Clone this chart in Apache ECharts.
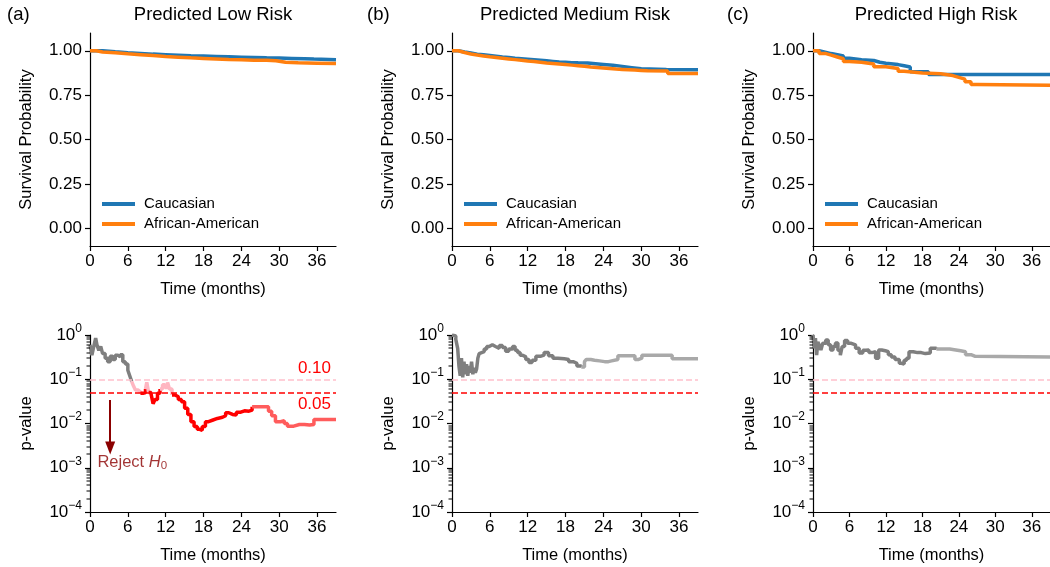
<!DOCTYPE html>
<html><head><meta charset="utf-8">
<script src="https://cdn.jsdelivr.net/npm/echarts@6/dist/echarts.min.js"></script>
<style>html,body{margin:0;padding:0;background:#fff}#c{width:1050px;height:567px}</style>
</head><body><div id="c"></div>
<script>
// ---------- text / ticks ----------
const panelTitles = ['Predicted Low Risk', 'Predicted Medium Risk', 'Predicted High Risk'];
const panelTags = ['(a)', '(b)', '(c)'];
const groups = ['Caucasian', 'African-American'];
const timeTicks = [0, 6, 12, 18, 24, 30, 36];
const survTicks = [0, 0.25, 0.5, 0.75, 1];
const pTicks = [1e-4, 1e-3, 1e-2, 1e-1, 1];
const thresholds = [0.10, 0.05];

// ---------- Kaplan-Meier curves ----------
const lowCauT = [0, 2, 4, 6, 8, 10, 12, 14, 16, 18, 20, 22, 24, 26, 28, 30, 32, 34, 35.5, 39];
const lowCauS = [1, 0.994, 0.989, 0.985, 0.981, 0.978, 0.975, 0.972, 0.970, 0.968, 0.966, 0.964, 0.962, 0.960, 0.959, 0.957, 0.955, 0.953, 0.949, 0.949];
const lowAfrT = [0, 1, 2, 4, 6, 8, 10, 12, 14, 16, 18, 20, 22, 24, 26, 28, 29.5, 31, 33, 36, 39];
const lowAfrS = [1, 0.993, 0.989, 0.983, 0.978, 0.973, 0.968, 0.964, 0.960, 0.957, 0.954, 0.951, 0.949, 0.947, 0.946, 0.944, 0.935, 0.932, 0.930, 0.928, 0.927];
const medCauT = [0, 1, 2, 3, 4, 5, 6, 7, 8, 9, 10, 11, 12, 13, 14, 15, 16, 17, 18, 19, 20, 21.5, 24, 25.5, 27, 28.5, 30, 34, 39];
const medCauS = [1, 0.993, 0.987, 0.981, 0.977, 0.973, 0.969, 0.965, 0.962, 0.958, 0.955, 0.952, 0.949, 0.946, 0.943, 0.940, 0.937, 0.935, 0.933, 0.932, 0.931, 0.923, 0.918, 0.912, 0.905, 0.898, 0.895, 0.893, 0.893];
const medAfrT = [0, 1, 2, 3, 4, 5, 6, 7, 8, 9, 10, 11, 12, 13, 14, 15, 16, 17, 18, 19, 20, 21, 22, 23, 24, 25, 26, 27, 28, 29, 30, 31, 34.2, 39];
const medAfrS = [1, 0.990, 0.982, 0.976, 0.971, 0.966, 0.962, 0.958, 0.954, 0.950, 0.946, 0.942, 0.939, 0.935, 0.931, 0.928, 0.925, 0.922, 0.919, 0.916, 0.913, 0.909, 0.906, 0.903, 0.900, 0.897, 0.895, 0.893, 0.891, 0.889, 0.887, 0.886, 0.872, 0.871];
const highCauT = [0, 1, 2, 3, 4, 5, 6, 8, 10, 11, 12, 14, 15, 16, 19, 39];
const highCauS = [1, 0.992, 0.984, 0.978, 0.970, 0.958, 0.950, 0.945, 0.935, 0.930, 0.922, 0.915, 0.908, 0.882, 0.866, 0.866];
const highAfrT = [0, 1, 2, 3, 4, 5, 6, 8, 10, 12, 14, 15, 18, 21, 23, 24, 25, 26, 27, 39];
const highAfrS = [1, 0.985, 0.975, 0.965, 0.955, 0.940, 0.935, 0.925, 0.910, 0.900, 0.885, 0.875, 0.870, 0.860, 0.850, 0.840, 0.825, 0.810, 0.805, 0.805];

// ---------- log-rank p-value over time ----------
const lowPT = [0, 0.3, 0.6, 0.9, 1.1, 1.4, 1.7, 2.0, 2.4, 2.8, 3.2, 3.6, 4.0, 4.4, 4.8, 5.2, 5.6, 6.0, 6.3, 6.6, 6.9, 7.2, 7.6, 8.0, 8.4, 8.8, 9.0, 9.3, 9.7, 10.0, 10.3, 10.7, 11.1, 11.5, 11.9, 12.3, 12.6, 13.0, 13.5, 14.0, 14.5, 15.0, 15.5, 16.0, 16.5, 17.0, 17.4, 17.8, 18.3, 18.8, 19.5, 20.2, 21.0, 21.5, 22.0, 22.6, 23.2, 23.9, 24.5, 25.2, 25.7, 27.8, 28.3, 28.8, 29.4, 30.2, 30.8, 31.3, 32.3, 33.2, 34.0, 34.8, 35.5, 39];
const lowP = [0.6, 0.35, 0.55, 0.85, 0.6, 0.45, 0.55, 0.38, 0.3, 0.25, 0.33, 0.28, 0.35, 0.32, 0.36, 0.25, 0.22, 0.16, 0.12, 0.09, 0.07, 0.057, 0.052, 0.048, 0.05, 0.06, 0.085, 0.05, 0.045, 0.028, 0.035, 0.048, 0.06, 0.075, 0.065, 0.085, 0.06, 0.044, 0.04, 0.035, 0.031, 0.022, 0.016, 0.011, 0.0085, 0.0074, 0.007, 0.0085, 0.011, 0.012, 0.013, 0.0138, 0.015, 0.0175, 0.016, 0.0155, 0.018, 0.0194, 0.019, 0.02, 0.024, 0.024, 0.019, 0.015, 0.011, 0.0115, 0.01, 0.0087, 0.0095, 0.0095, 0.0092, 0.0095, 0.0123, 0.0123];
const medPT = [0, 0.3, 0.6, 0.9, 1.1, 1.3, 1.5, 1.7, 1.9, 2.1, 2.3, 2.5, 2.7, 2.9, 3.1, 3.3, 3.5, 3.7, 3.9, 4.1, 4.3, 4.6, 5.1, 5.5, 5.9, 6.4, 6.9, 7.5, 8.0, 8.5, 9.0, 9.6, 10.0, 10.4, 10.8, 11.2, 11.7, 12.2, 12.7, 13.3, 14.0, 14.6, 15.3, 16.0, 16.8, 17.8, 18.5, 19.2, 19.8, 20.5, 21.0, 21.3, 22.0, 22.6, 23.4, 24.2, 24.8, 25.3, 26.3, 28.5, 29.0, 29.6, 30.1, 34.1, 34.9, 39];
const medP = [1.0, 0.95, 0.8, 0.5, 0.2, 0.12, 0.3, 0.11, 0.25, 0.13, 0.22, 0.12, 0.2, 0.14, 0.25, 0.13, 0.18, 0.14, 0.17, 0.3, 0.38, 0.42, 0.48, 0.55, 0.6, 0.55, 0.5, 0.58, 0.52, 0.43, 0.48, 0.55, 0.45, 0.4, 0.35, 0.32, 0.28, 0.24, 0.27, 0.33, 0.35, 0.4, 0.34, 0.3, 0.29, 0.28, 0.25, 0.23, 0.2, 0.19, 0.25, 0.28, 0.27, 0.26, 0.25, 0.25, 0.26, 0.28, 0.34, 0.34, 0.28, 0.3, 0.35, 0.35, 0.29, 0.29];
const highPT = [0, 0.2, 0.4, 0.6, 0.8, 1.0, 1.3, 1.6, 2.1, 2.5, 2.9, 3.3, 3.7, 4.1, 4.5, 4.8, 5.2, 5.7, 6.3, 7.0, 7.6, 8.2, 8.7, 9.2, 9.7, 10.3, 10.8, 11.3, 11.9, 12.4, 12.9, 13.5, 14.2, 14.6, 15.0, 15.4, 15.8, 16.5, 17.2, 17.8, 18.5, 19.3, 20.3, 21.4, 22.5, 23.5, 24.3, 25.1, 26.0, 26.7, 39];
const highP = [1.0, 0.5, 0.85, 0.35, 0.7, 0.6, 0.46, 0.65, 0.77, 0.6, 0.46, 0.55, 0.66, 0.45, 0.35, 0.55, 0.75, 0.65, 0.6, 0.5, 0.39, 0.45, 0.46, 0.4, 0.42, 0.3, 0.46, 0.44, 0.42, 0.36, 0.32, 0.28, 0.23, 0.22, 0.27, 0.3, 0.42, 0.4, 0.4, 0.38, 0.39, 0.5, 0.48, 0.48, 0.46, 0.44, 0.42, 0.36, 0.33, 0.32, 0.32];
const fadeAfter = [25.5, 20.5, 20];

// ---------- layout / style ----------
const FONT = '"Liberation Sans", Arial, Helvetica, sans-serif';
const gridLefts = [90, 452, 813];
const tagLefts = [7, 367, 727];
const GW = 246;
const TOP_Y = 33, TOP_H = 213, BOT_Y = 335, BOT_H = 177;
const C_BLUE = '#1f77b4', C_ORANGE = '#ff7f0e';
const segColors = { g: '#7f7f7f', gf: '#a9a9a9', p: '#ffb6c1', pf: '#ffc8d0', r: '#ff0000', rf: '#ff5c5c' };
const TICK_FS = 17, NAME_FS = 16.5, TITLE_FS = 18.5;

const kmT = [[lowCauT, lowAfrT], [medCauT, medAfrT], [highCauT, highAfrT]];
const kmS = [[lowCauS, lowAfrS], [medCauS, medAfrS], [highCauS, highAfrS]];
const pvT = [lowPT, medPT, highPT];
const pvV = [lowP, medP, highP];

const minorTicks = [];
for (let e = -4; e < 0; e++) for (let k = 2; k <= 9; k++) minorTicks.push(k * Math.pow(10, e));

const zip = (a, b) => a.map((x, i) => [x, b[i]]);
const axisCol = '#000';

const grid = [], xAxis = [], yAxis = [], series = [];
for (let i = 0; i < 3; i++) grid.push({ left: gridLefts[i], top: TOP_Y, width: GW, height: TOP_H });
for (let i = 0; i < 3; i++) grid.push({ left: gridLefts[i], top: BOT_Y, width: GW, height: BOT_H });

for (let g = 0; g < 6; g++) {
  xAxis.push({
    type: 'value', gridIndex: g, min: 0, max: 39,
    axisLine: { show: true, onZero: false, lineStyle: { color: axisCol, width: 1.2 } },
    axisTick: { show: true, length: 5, customValues: timeTicks, lineStyle: { color: axisCol, width: 1.2 } },
    axisLabel: { customValues: timeTicks, fontSize: TICK_FS, color: '#000', margin: 7, fontFamily: FONT },
    splitLine: { show: false },
    name: 'Time (months)', nameLocation: 'middle', nameGap: 35,
    nameTextStyle: { fontSize: NAME_FS, color: '#000', fontFamily: FONT }
  });
}
for (let g = 0; g < 3; g++) {
  yAxis.push({
    type: 'value', gridIndex: g, min: -0.1, max: 1.1,
    axisLine: { show: true, lineStyle: { color: axisCol, width: 1.2 } },
    axisTick: { show: true, length: 5, customValues: survTicks, lineStyle: { color: axisCol, width: 1.2 } },
    axisLabel: { customValues: survTicks, fontSize: TICK_FS, color: '#000', margin: 8, fontFamily: FONT,
      formatter: v => v.toFixed(2) },
    splitLine: { show: false },
    name: 'Survival Probability', nameLocation: 'middle', nameGap: 55,
    nameTextStyle: { fontSize: NAME_FS, color: '#000', fontFamily: FONT }
  });
}
for (let g = 3; g < 6; g++) {
  yAxis.push({
    type: 'log', logBase: 10, gridIndex: g, min: 1e-4, max: 1, position: 'left',
    axisLine: { show: true, lineStyle: { color: axisCol, width: 1.2 } },
    axisTick: { show: true, length: 5, customValues: pTicks, lineStyle: { color: axisCol, width: 1.2 } },
    axisLabel: { customValues: pTicks, color: '#000', margin: 8, fontFamily: FONT,
      formatter: v => {
        const e = Math.round(Math.log10(v));
        return '{b|10}{s|' + (e < 0 ? '\u2212' + (-e) : String(e)) + '}';
      },
      rich: {
        b: { fontSize: TICK_FS, fontFamily: FONT, color: '#000' },
        s: { fontSize: 12, fontFamily: FONT, color: '#000', padding: [0, 0, 13, 0] }
      }
    },
    splitLine: { show: false },
    name: 'p-value', nameLocation: 'middle', nameGap: 55,
    nameTextStyle: { fontSize: NAME_FS, color: '#000', fontFamily: FONT }
  });
}

// KM series
for (let i = 0; i < 3; i++) {
  [C_BLUE, C_ORANGE].forEach((col, k) => {
    series.push({
      type: 'line', name: groups[k], xAxisIndex: i, yAxisIndex: i, step: 'end',
      data: zip(kmT[i][k], kmS[i][k]), showSymbol: false, symbol: 'none',
      lineStyle: { color: col, width: 3.5 }, itemStyle: { color: col },
      silent: true, animation: false, z: 3 + k
    });
  });
}

// p-value traces coloured by significance class
const cls = v => (v > 0.1 ? 'g' : (v > 0.05 ? 'p' : 'r'));
for (let i = 0; i < 3; i++) {
  const t = pvT[i], p = pvV[i], gi = 3 + i;
  const key = j => cls(p[j]) + (t[j] >= fadeAfter[i] ? 'f' : '');
  let start = 0;
  for (let j = 1; j <= t.length; j++) {
    if (j === t.length || key(j) !== key(start)) {
      const end = Math.min(j, t.length - 1);
      const pts = [];
      for (let m = start; m <= end; m++) pts.push([t[m], p[m]]);
      const col = segColors[key(start)];
      series.push({
        type: 'line', xAxisIndex: gi, yAxisIndex: gi, step: 'end', data: pts,
        showSymbol: false, symbol: 'none', lineStyle: { color: col, width: 3.5 },
        itemStyle: { color: col }, silent: true, animation: false, z: 4
      });
      start = j;
    }
  }
  series.push({
    type: 'line', xAxisIndex: gi, yAxisIndex: gi, data: [], silent: true, animation: false, z: 2,
    markLine: {
      silent: true, symbol: ['none', 'none'], animation: false,
      data: [
        { yAxis: thresholds[0], lineStyle: { color: '#ffc0cb', type: [6, 3], width: 1.6 },
          label: { show: i === 0, formatter: '0.10', position: 'insideEndTop', color: '#ff0000', fontSize: TICK_FS, fontFamily: FONT, distance: [5, 2] } },
        { yAxis: thresholds[1], lineStyle: { color: '#ff0000', type: [6, 3], width: 1.6 },
          label: { show: i === 0, formatter: '0.05', position: 'insideEndBottom', color: '#ff0000', fontSize: TICK_FS, fontFamily: FONT, distance: [5, 3] } }
      ]
    }
  });
  // minor log ticks drawn through the axis scale
  series.push({
    type: 'custom', coordinateSystem: 'cartesian2d', xAxisIndex: gi, yAxisIndex: gi,
    clip: false, silent: true, animation: false, z: 10,
    data: minorTicks.map(v => [1, v]),
    renderItem: function (params, api) {
      const pt = api.coord([0, api.value(1)]);
      return { type: 'rect', shape: { x: pt[0] - 3.5, y: Math.round(pt[1]) - 0.5, width: 3.5, height: 1 },
        style: { fill: '#000' } };
    }
  });
}

// "Reject H0" annotation with arrow
const arrowFrom = [3.2, 0.034], arrowTo = [3.2, 0.0028];
const rejectAnchor = [6.7, 0.00135];
series.push({
  type: 'scatter', xAxisIndex: 3, yAxisIndex: 3, data: [rejectAnchor], symbolSize: 0,
  silent: true, animation: false, z: 6,
  label: {
    show: true, position: 'inside',
    formatter: '{n|Reject }{i|H}{u|0}',
    rich: {
      n: { fontSize: NAME_FS, color: '#8b0000', fontFamily: FONT },
      i: { fontSize: NAME_FS, color: '#8b0000', fontFamily: FONT, fontStyle: 'italic' },
      u: { fontSize: 11.5, color: '#8b0000', fontFamily: FONT, padding: [8, 0, 0, 0] }
    }
  },
  markLine: {
    silent: true, animation: false, symbol: ['none', 'triangle'], symbolSize: [10, 13],
    lineStyle: { color: '#8b0000', width: 2, type: 'solid' }, label: { show: false },
    data: [[{ coord: arrowFrom }, { coord: arrowTo }]]
  }
});

const title = [];
panelTitles.forEach((t, i) => title.push({
  text: t, left: gridLefts[i] + GW / 2, top: 5, padding: 0, textAlign: 'center',
  textStyle: { fontSize: TITLE_FS, fontWeight: 'normal', color: '#000', fontFamily: FONT }
}));
panelTags.forEach((t, i) => title.push({
  text: t, left: tagLefts[i], top: 5, padding: 0,
  textStyle: { fontSize: TITLE_FS, fontWeight: 'normal', color: '#000', fontFamily: FONT }
}));

const legend = [0, 1, 2].map(i => ({
  data: groups, orient: 'vertical', left: gridLefts[i] + 12, top: 196, padding: 0,
  icon: 'rect', itemWidth: 33, itemHeight: 4, itemGap: 4, selectedMode: false,
  textStyle: { fontSize: 15, color: '#000', fontFamily: FONT, padding: [0, 0, 0, 4], lineHeight: 16 }
}));

const chart = echarts.init(document.getElementById('c'), null, { renderer: 'canvas' });
let err = '';
try {
  chart.setOption({ animation: false, backgroundColor: '#fff', textStyle: { fontFamily: FONT },
    title, legend, grid, xAxis, yAxis, series });
} catch (e) { err = String(e); }
if (err) chart.setOption({ graphic: [{ type: 'text', left: 400, top: 280, style: { text: 'ERR ' + err, fill: '#00f', fontSize: 12 } }] });
</script></body></html>
